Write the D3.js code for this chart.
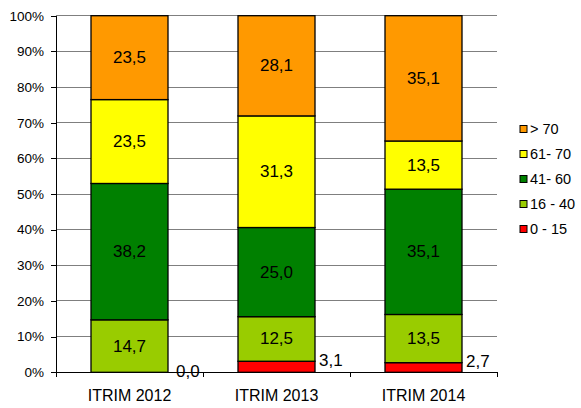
<!DOCTYPE html>
<html><head><meta charset="utf-8">
<script src="https://cdn.jsdelivr.net/npm/d3@7"></script>
<style>body{margin:0;background:#fff}svg{display:block;font-family:"Liberation Sans",Arial,sans-serif}</style>
</head><body><svg id="c" width="581" height="408"></svg>
<script>
const categories = ["ITRIM 2012", "ITRIM 2013", "ITRIM 2014"];
const seriesNames = ["0 - 15", "16 - 40", "41- 60", "61- 70", "> 70"];
const legendLabels = ["> 70", "61- 70", "41- 60", "16 - 40", "0 - 15"];
const v0_15 = [0.0, 3.1, 2.7];
const v16_40 = [14.7, 12.5, 13.5];
const v41_60 = [38.2, 25.0, 35.1];
const v61_70 = [23.5, 31.3, 13.5];
const v70 = [23.5, 28.1, 35.1];
const yTicks = [0, 0.1, 0.2, 0.3, 0.4, 0.5, 0.6, 0.7, 0.8, 0.9, 1.0];
const colors = ["#FF0000", "#99CC00", "#008000", "#FFFF00", "#FF9900"];

const seriesVals = [v0_15, v16_40, v41_60, v61_70, v70];
const rows = categories.map((c, i) => {
  const r = {cat: c};
  seriesNames.forEach((s, k) => r[s] = seriesVals[k][i]);
  return r;
});
const stack = d3.stack().keys(seriesNames).offset(d3.stackOffsetExpand);
const stacked = stack(rows);

const svg = d3.select("#c");
const L = 56, R = 497, T = 15.7, B = 372.3;
const x = d3.scaleBand().domain(categories).range([L, R]).paddingInner(0).paddingOuter(0);
const y = d3.scaleLinear().domain([0, 1]).range([B, T]);
const barW = 77;

// gridlines
svg.append("g").selectAll("line").data(yTicks.slice(1)).join("line")
  .attr("x1", L).attr("x2", R).attr("y1", d => y(d)).attr("y2", d => y(d))
  .attr("stroke", "#7f7f7f").attr("stroke-width", 1).attr("shape-rendering", "crispEdges");

// y axis
const ya = svg.append("g").attr("transform", `translate(${L},0)`)
  .call(d3.axisLeft(y).tickValues(yTicks).tickFormat(d3.format(".0%")).tickSize(5).tickPadding(7));
ya.select(".domain").attr("stroke", "#000").attr("shape-rendering", "crispEdges");
ya.selectAll(".tick line").attr("stroke", "#000").attr("shape-rendering", "crispEdges");
ya.selectAll("text").attr("font-size", 13.5).attr("fill", "#000").attr("font-family", "Liberation Sans, Arial, sans-serif");

// bars
const gBars = svg.append("g");
stacked.forEach((layer, k) => {
  gBars.selectAll(null).data(layer).join("rect")
    .attr("x", d => x(d.data.cat) + x.bandwidth() / 2 - barW / 2)
    .attr("width", barW)
    .attr("y", d => y(d[1]))
    .attr("height", d => y(d[0]) - y(d[1]))
    .attr("fill", colors[k])
    .attr("stroke", "#000").attr("stroke-width", 1.3);
});

// x axis
const xa = svg.append("g").attr("transform", `translate(0,${B})`);
xa.append("line").attr("x1", L).attr("x2", R).attr("y1", 0).attr("y2", 0)
  .attr("stroke", "#000").attr("shape-rendering", "crispEdges");
const bounds = [L].concat(categories.map(c => x(c) + x.bandwidth()));
xa.selectAll(".bt").data(bounds).join("line").attr("class", "bt")
  .attr("x1", d => d).attr("x2", d => d).attr("y1", 0).attr("y2", 5)
  .attr("stroke", "#000").attr("shape-rendering", "crispEdges");
xa.selectAll(".xl").data(categories).join("text").attr("class", "xl")
  .attr("x", d => x(d) + x.bandwidth() / 2).attr("y", 29)
  .attr("text-anchor", "middle").attr("font-size", 16).attr("fill", "#000")
  .text(d => d);

// value labels
const fmt = v => v.toFixed(1).replace(".", ",");
stacked.forEach((layer, k) => {
  layer.forEach((d, i) => {
    const val = seriesVals[k][i];
    const cx = x(d.data.cat) + x.bandwidth() / 2;
    if (k === 0) {
      svg.append("text").attr("x", cx + barW / 2 + (val === 0 ? 8 : 4)).attr("y", y(d[1]) - 1)
        .attr("dominant-baseline", "central").attr("font-size", 17).attr("fill", "#000")
        .text(fmt(val));
    } else {
      svg.append("text").attr("x", cx).attr("y", (y(d[0]) + y(d[1])) / 2)
        .attr("text-anchor", "middle").attr("dominant-baseline", "central")
        .attr("font-size", 17).attr("fill", "#000").text(fmt(val));
    }
  });
});

// legend
const legColors = colors.slice().reverse();
const lg = svg.append("g").attr("transform", "translate(520,129)");
legendLabels.forEach((lab, i) => {
  const g = lg.append("g").attr("transform", `translate(0,${i * 25})`);
  g.append("rect").attr("x", 0).attr("y", -3.5).attr("width", 7).attr("height", 7)
    .attr("fill", legColors[i]).attr("stroke", "#000").attr("stroke-width", 1);
  g.append("text").attr("x", 10).attr("y", 0).attr("dominant-baseline", "central")
    .attr("font-size", 14.5).attr("fill", "#000").text(lab);
});
</script></body></html>
